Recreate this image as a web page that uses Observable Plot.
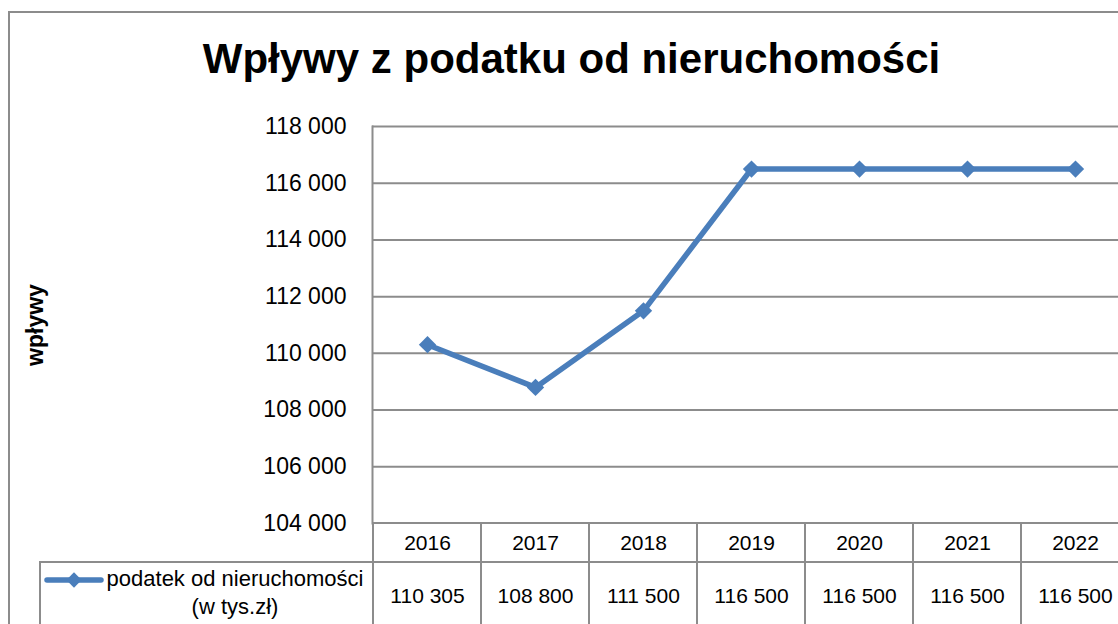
<!DOCTYPE html>
<html>
<head>
<meta charset="utf-8">
<script src="https://cdn.jsdelivr.net/npm/d3@7"></script>
<script src="https://cdn.jsdelivr.net/npm/@observablehq/plot@0.6"></script>
<style>
  html, body { margin: 0; padding: 0; background: #fff; overflow: hidden; }
  #wrap { position: relative; width: 1118px; height: 624px; overflow: hidden; font-family: "Liberation Sans", Arial, sans-serif; }
  #outer { position: absolute; left: 8px; top: 11px; width: 1300px; height: 800px; border-left: 2px solid #8c8c8c; border-top: 2px solid #8c8c8c; }
  #title { position: absolute; left: 0; top: 35px; width: 1143px; text-align: center; font-weight: bold; font-size: 42px; color: #000; white-space: nowrap; }
  .abs { position: absolute; left: 0; }
  .abs svg { max-width: none !important; }
  #legendCell { position: absolute; left: 39px; top: 561px; width: 331px; height: 80px; border: 2px solid #8c8c8c; background: #fff; }
  #legendSwatch { position: absolute; left: 3px; top: 6px; }
  #legendText { position: absolute; left: 63px; top: 2px; width: 262px; text-align: center; font-size: 22px; line-height: 28px; color: #000; white-space: nowrap; }
  g[aria-label="y-axis label"] text { font-weight: bold; }
</style>
</head>
<body>
<div id="wrap">
  <div id="outer"></div>
  <div id="title"></div>
  <div id="main" class="abs" style="top:0"></div>
  <div id="head" class="abs" style="top:522px"></div>
  <div id="vals" class="abs" style="top:561px"></div>
  <div id="legendCell">
    <svg id="legendSwatch" width="62" height="22"></svg>
    <div id="legendText"></div>
  </div>
</div>
<script>
// ---- data ----
const title = "Wpływy z podatku od nieruchomości";
const yLabel = "wpływy";
const seriesName = "podatek od nieruchomości";
const seriesUnit = "(w tys.zł)";
const years = ["2016", "2017", "2018", "2019", "2020", "2021", "2022"];
const values = [110305, 108800, 111500, 116500, 116500, 116500, 116500];
const yTicks = [104000, 106000, 108000, 110000, 112000, 114000, 116000, 118000];

const data = years.map((y, i) => ({year: y, value: values[i]}));
const fmt = v => d3.format(",")(v).replace(/,/g, " ");

const blue = "#4a7ebb";
const grid = "#8c8c8c";
const W = 1135, ML = 372, MR = 5;
const font = "Liberation Sans, Arial, sans-serif";

document.getElementById("title").textContent = title;

const xScale = {type: "band", domain: years, padding: 0, axis: null};
const baseStyle = {fontFamily: font, color: "#000", background: "transparent", overflow: "visible", maxWidth: "none"};

const main = Plot.plot({
  width: W, height: 524,
  marginTop: 126, marginBottom: 1, marginLeft: ML, marginRight: MR,
  style: {...baseStyle, fontSize: "23px"},
  x: xScale,
  y: {domain: [yTicks[0], yTicks[yTicks.length - 1]]},
  marks: [
    Plot.gridY(yTicks, {stroke: grid, strokeOpacity: 1, strokeWidth: 2}),
    Plot.frame({anchor: "left", stroke: grid, strokeWidth: 2}),
    Plot.axisY(yTicks, {tickSize: 0, tickPadding: 26, tickFormat: fmt, fontSize: 23,
      label: yLabel, labelAnchor: "center", labelOffset: 346, labelArrow: "none"}),
    Plot.line(data, {x: "year", y: "value", stroke: blue, strokeWidth: 5.5}),
    Plot.dot(data, {x: "year", y: "value", symbol: "diamond2", r: 7.8, fill: blue, stroke: null})
  ]
});
document.getElementById("main").append(main);

const head = Plot.plot({
  width: W, height: 41,
  marginTop: 1, marginBottom: 0, marginLeft: ML, marginRight: MR,
  style: {...baseStyle, fontSize: "21px"},
  x: xScale,
  marks: [
    Plot.cell(years, {x: d => d, fill: "white", stroke: grid, strokeWidth: 2}),
    Plot.text(years, {x: d => d, text: d => d, fontSize: 21, fill: "#000"})
  ]
});
document.getElementById("head").append(head);

const vals = Plot.plot({
  width: W, height: 68,
  marginTop: 1, marginBottom: 0, marginLeft: ML, marginRight: MR,
  style: {...baseStyle, fontSize: "21px"},
  x: xScale,
  marks: [
    Plot.cell(data, {x: "year", fill: "white", stroke: grid, strokeWidth: 2}),
    Plot.text(data, {x: "year", text: d => fmt(d.value), fontSize: 21, fill: "#000"})
  ]
});
document.getElementById("vals").append(vals);

// legend swatch
const sw = d3.select("#legendSwatch");
sw.append("line").attr("x1", 3).attr("x2", 57).attr("y1", 11).attr("y2", 11)
  .attr("stroke", blue).attr("stroke-width", 5.5).attr("stroke-linecap", "round");
sw.append("path").attr("d", d3.symbol(d3.symbolDiamond2, 150)()).attr("transform", "translate(30,11)").attr("fill", blue);
document.getElementById("legendText").innerHTML = seriesName + "<br>" + seriesUnit;
</script>
</body>
</html>
